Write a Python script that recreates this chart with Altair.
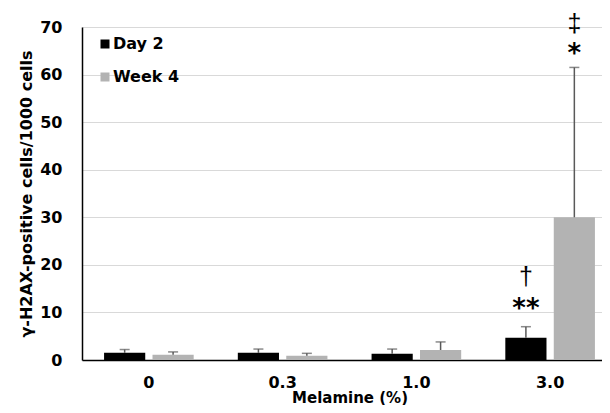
import altair as alt
import pandas as pd

categories = ["0", "0.3", "1.0", "3.0"]
series = ["Day 2", "Week 4"]
day2_mean = [1.5, 1.5, 1.3, 4.7]
day2_err = [0.7, 0.8, 1.0, 2.3]
week4_mean = [1.1, 0.9, 2.1, 30.0]
week4_err = [0.6, 0.5, 1.7, 31.5]

star_cat = ["3.0", "3.0"]
star_series = ["Day 2", "Week 4"]
star_y = [11.8, 65.3]
star_text = ["**", "*"]

dag_cat = ["3.0", "3.0"]
dag_series = ["Day 2", "Week 4"]
dag_y = [17.5, 70.6]
dag_text = ["†", "‡"]

rows = []
for i, c in enumerate(categories):
    rows.append({"cat": c, "series": "Day 2", "mean": day2_mean[i], "upper": day2_mean[i] + day2_err[i]})
    rows.append({"cat": c, "series": "Week 4", "mean": week4_mean[i], "upper": week4_mean[i] + week4_err[i]})
df = pd.DataFrame(rows)
stars = pd.DataFrame({"cat": star_cat, "series": star_series, "y": star_y, "text": star_text})
dags = pd.DataFrame({"cat": dag_cat, "series": dag_series, "y": dag_y, "text": dag_text})

FONT = "DejaVu Sans"
xscale = alt.Scale(domain=categories, range=[0, 535], paddingInner=0.33, paddingOuter=0.165)
xenc = alt.X("cat:N", sort=categories, scale=xscale,
             axis=alt.Axis(title="Melamine (%)", labelAngle=0, ticks=False, domainColor="black",
                           domainWidth=1.5, labelFontSize=16, labelFontWeight="bold", labelFont=FONT,
                           labelPadding=14, titleFontSize=15, titleFont=FONT, titleFontWeight="bold",
                           titlePadding=0, labelColor="black", titleColor="black"))
xplain = alt.X("cat:N", sort=categories, scale=xscale)
xoff = alt.XOffset("series:N", sort=series, scale=alt.Scale(domain=series, paddingInner=0.15, paddingOuter=0))
yscale = alt.Scale(domain=[0, 70])

bars = alt.Chart(df).mark_bar().encode(
    x=xenc, xOffset=xoff,
    y=alt.Y("mean:Q", scale=yscale,
            axis=alt.Axis(title="γ-H2AX-positive cells/1000 cells", values=list(range(0, 71, 10)),
                          ticks=False, domainColor="black", domainWidth=1.5, gridColor="#d9d9d9",
                          gridWidth=1.2, labelFontSize=16, labelFontWeight="bold", labelFont=FONT,
                          labelPadding=20, titleFontSize=16, titleFont=FONT, titleFontWeight="bold",
                          labelColor="black", titleColor="black", titlePadding=5)),
    color=alt.Color("series:N", sort=series,
                    scale=alt.Scale(domain=series, range=["#000000", "#b3b3b3"]),
                    legend=alt.Legend(title=None, orient="none", legendX=15, legendY=9,
                                      symbolType="square", symbolSize=81, symbolStrokeWidth=0,
                                      labelFontSize=16, labelFontWeight="bold", labelFont=FONT,
                                      labelColor="black", rowPadding=17, labelOffset=0)),
)

err = alt.Chart(df).mark_rule(color="#595959", strokeWidth=1.5).encode(
    x=xplain, xOffset=xoff,
    y=alt.Y("mean:Q", scale=yscale), y2="upper:Q",
)
cap = alt.Chart(df).mark_tick(color="#595959", thickness=1.5, size=10).encode(
    x=xplain, xOffset=xoff,
    y=alt.Y("upper:Q", scale=yscale),
)
star_layer = alt.Chart(stars).mark_text(color="black", fontWeight="bold", font=FONT,
                                         baseline="middle", fontSize=26, dy=5).encode(
    x=xplain, xOffset=xoff,
    y=alt.Y("y:Q", scale=yscale),
    text="text:N",
)
dag_layer = alt.Chart(dags).mark_text(color="black", font="Liberation Sans",
                                       baseline="middle", fontSize=25).encode(
    x=xplain, xOffset=xoff,
    y=alt.Y("y:Q", scale=yscale),
    text="text:N",
)

chart = alt.layer(bars, err, cap, star_layer, dag_layer).properties(
    width=520, height=333,
    autosize=alt.AutoSizeParams(type="none"),
    padding={"left": 74, "top": 19, "right": 0, "bottom": 45},
).configure_view(stroke=None, clip=False).configure_axis(grid=False).configure_axisY(grid=True)

chart.save("out.html", embed_options={"renderer": "svg", "actions": False})
